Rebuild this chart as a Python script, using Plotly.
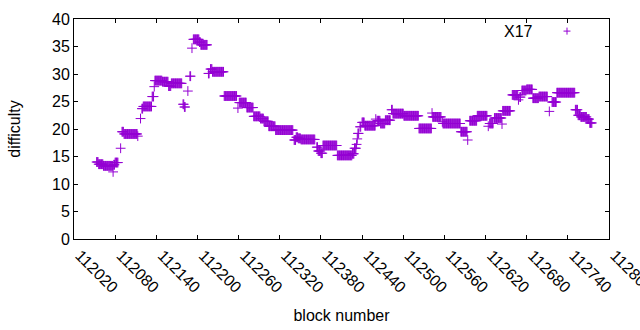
import plotly.graph_objects as go

# Runs of constant difficulty: (first block, last block, difficulty)
run_start = [112053, 112056, 112063, 112077, 112078, 112080, 112088, 112090, 112093, 112113,
             112117, 112119, 112121, 112134, 112137, 112138, 112149, 112158, 112162, 112179,
             112181, 112186, 112189, 112192, 112194, 112203, 112205, 112216, 112219, 112222,
             112239, 112259, 112261, 112272, 112282, 112292, 112297, 112304, 112314, 112341,
             112344, 112347, 112351, 112374, 112376, 112380, 112383, 112404, 112426, 112429,
             112432, 112433, 112434, 112437, 112440, 112444, 112460, 112462, 112467, 112474,
             112483, 112485, 112501, 112523, 112542, 112543, 112557, 112558, 112584, 112594,
             112597, 112608, 112624, 112626, 112633, 112644, 112645, 112659, 112668, 112670,
             112673, 112680, 112689, 112698, 112713, 112717, 112724, 112751, 112755, 112759,
             112768, 112772]
run_end = [112055, 112062, 112076, 112077, 112079, 112084, 112088, 112092, 112112, 112113,
           112117, 112120, 112133, 112136, 112137, 112148, 112157, 112161, 112177, 112180,
           112182, 112186, 112190, 112192, 112202, 112204, 112214, 112217, 112221, 112238,
           112257, 112259, 112271, 112281, 112291, 112296, 112303, 112313, 112339, 112343,
           112346, 112350, 112371, 112375, 112379, 112382, 112403, 112425, 112428, 112431,
           112432, 112433, 112435, 112438, 112443, 112459, 112460, 112466, 112473, 112481,
           112484, 112500, 112522, 112541, 112542, 112555, 112557, 112583, 112593, 112594,
           112607, 112622, 112624, 112631, 112643, 112644, 112656, 112667, 112668, 112671,
           112679, 112688, 112697, 112710, 112713, 112723, 112750, 112754, 112758, 112767,
           112771, 112775]
run_value = [14.0, 13.6, 13.3, 12.2, 13.5, 13.9, 16.5, 19.5, 19.1, 18.7,
             21.9, 23.7, 24.1, 25.9, 27.7, 28.8, 28.6, 27.8, 28.3, 24.5,
             24.0, 26.9, 29.6, 34.7, 36.3, 35.8, 35.3, 30.1, 30.9, 30.4,
             26.0, 23.8, 24.8, 23.9, 22.3, 21.9, 21.4, 20.5, 19.8, 18.0,
             18.5, 18.3, 18.1, 16.7, 16.0, 15.6, 17.0, 15.2, 15.5, 16.5,
             17.2, 18.2, 19.2, 20.4, 21.2, 20.6, 21.8, 21.5, 21.0, 21.6,
             23.5, 22.8, 22.4, 20.1, 22.9, 22.2, 21.3, 21.0, 19.5, 18.0,
             21.5, 22.4, 20.5, 21.0, 22.0, 20.9, 23.3, 26.2, 25.3, 25.8,
             27.0, 27.2, 25.6, 25.9, 23.2, 24.9, 26.6, 23.5, 22.5, 22.2,
             21.8, 21.1]

x_ticks = list(range(112020, 112801, 60))
y_ticks = list(range(0, 41, 5))

blocks, difficulty = [], []
for s, e, v in zip(run_start, run_end, run_value):
    for b in range(s, e + 1):
        blocks.append(b)
        difficulty.append(v)

PURPLE = "#9400D3"
FONT = "Liberation Sans, Arial, sans-serif"
FS = 16

fig = go.Figure()
fig.add_trace(go.Scatter(
    x=blocks, y=difficulty, mode="markers", name="X17", showlegend=False,
    marker=dict(symbol="cross-thin", size=7, color=PURPLE,
                line=dict(color=PURPLE, width=1)),
))

axis_common = dict(showline=True, linecolor="black", linewidth=1, mirror="ticks",
                   ticks="inside", ticklen=4, tickcolor="black", tickwidth=1,
                   showgrid=False, zeroline=False, automargin=False,
                   ticklabeloverflow="allow",
                   tickfont=dict(family=FONT, size=FS, color="black"))

fig.update_xaxes(range=[112020, 112800], tickmode="array", tickvals=x_ticks,
                 ticktext=[str(t) for t in x_ticks], tickangle=45, ticklabelshift=6,
                 title=dict(text="block number", font=dict(family=FONT, size=FS, color="black"),
                            standoff=14),
                 **axis_common)
fig.update_yaxes(range=[0, 40], tickmode="array", tickvals=y_ticks,
                 ticktext=[str(t) for t in y_ticks],
                 title=dict(text="difficulty", font=dict(family=FONT, size=FS, color="black"),
                            standoff=27),
                 **axis_common)

# key, gnuplot style: label then sample symbol
fig.add_annotation(xref="paper", yref="paper", x=0.862, y=0.945, text="X17",
                   showarrow=False, xanchor="right", yanchor="middle",
                   font=dict(family=FONT, size=FS, color="black"))
fig.add_shape(type="line", xref="paper", yref="paper", x0=0.915, x1=0.928, y0=0.945, y1=0.945,
              line=dict(color=PURPLE, width=1))
fig.add_shape(type="line", xref="paper", yref="paper", x0=0.9215, x1=0.9215, y0=0.929, y1=0.961,
              line=dict(color=PURPLE, width=1))

fig.update_layout(width=640, height=330, margin=dict(l=74, r=31, t=19, b=91),
                  plot_bgcolor="white", paper_bgcolor="white",
                  font=dict(family=FONT, size=FS, color="black"))

# remove the default 8px page margin so the figure fills the window exactly
fig.write_html("out.html", config={"displayModeBar": False},
               post_script="document.body.style.margin='0';document.body.style.overflow='hidden';")
